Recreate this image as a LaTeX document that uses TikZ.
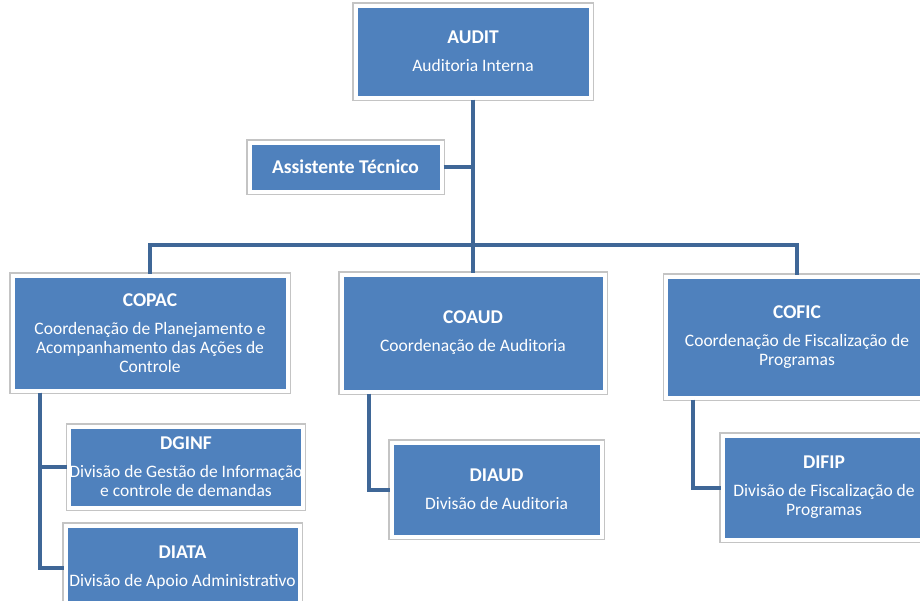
\documentclass[tikz,border=0pt]{standalone}
\usepackage{fontspec}
\setmainfont{Carlito}
\usepackage{tikz}
\definecolor{boxblue}{HTML}{4F81BD}
\definecolor{linkblue}{HTML}{3F6797}
\definecolor{rimgray}{HTML}{C4C4C4}
\tikzstyle{unit} = [rectangle, fill=boxblue, draw=white, line width=4pt,
  preaction={draw=rimgray, line width=6.4pt}, text=white, align=center,
  font=\fontsize{17.5}{19}\selectfont, inner sep=0pt]
\tikzstyle{link} = [draw=linkblue, line width=4pt]
\newcommand{\unitname}[1]{{\fontsize{19.5}{19}\selectfont\bfseries #1}}

\begin{document}
\begin{tikzpicture}[x=1pt,y=-1pt]
\useasboundingbox (0,0) rectangle (920,600);
\clip (0,0) rectangle (920,600);
% top level
\node[unit, minimum width=235pt, minimum height=92pt] (audit) at (473,51.5) {\unitname{AUDIT}\\[9pt]Auditoria Interna};
\node[unit, minimum width=192pt, minimum height=49pt] (asst) at (345.5,167) {\unitname{Assistente Técnico}};
% coordenacoes
\node[unit, minimum width=275pt, minimum height=115pt] (copac) at (150,333) {\unitname{COPAC}\\[9pt]Coordenação de Planejamento e\\Acompanhamento das Ações de\\Controle};
\node[unit, minimum width=263pt, minimum height=117pt] (coaud) at (473,333) {\unitname{COAUD}\\[9pt]Coordenação de Auditoria};
\node[unit, minimum width=262pt, minimum height=121pt] (cofic) at (797,337) {\unitname{COFIC}\\[9pt]Coordenação de Fiscalização de\\Programas};
% divisoes
\node[unit, minimum width=233pt, minimum height=81pt] (dginf) at (186,467) {\unitname{DGINF}\\[9pt]Divisão de Gestão de Informação\\e controle de demandas};
\node[unit, minimum width=234pt, minimum height=85pt] (diata) at (182.5,568) {\unitname{DIATA}\\[9pt]Divisão de Apoio Administrativo};
\node[unit, minimum width=210pt, minimum height=94pt] (diaud) at (496.5,489.5) {\unitname{DIAUD}\\[9pt]Divisão de Auditoria};
\node[unit, minimum width=203pt, minimum height=104pt] (difip) at (824,487.5) {\unitname{DIFIP}\\[9pt]Divisão de Fiscalização de\\Programas};
% connectors
\coordinate (bar) at (473,245);
\draw[link] (audit.south) -- (coaud.north);
\draw[link] (asst.east) -- (asst.east -| audit.south);
\draw[link] (copac.north) |- (bar) -| (cofic.north);
\draw[link] ([xshift=29pt]copac.south west) |- (dginf.west);
\draw[link] ([xshift=29pt]copac.south west) |- (diata.west);
\draw[link] ([xshift=29pt]coaud.south west) |- (diaud.west);
\draw[link] ([xshift=29pt]cofic.south west) |- (difip.west);
\end{tikzpicture}
\end{document}
